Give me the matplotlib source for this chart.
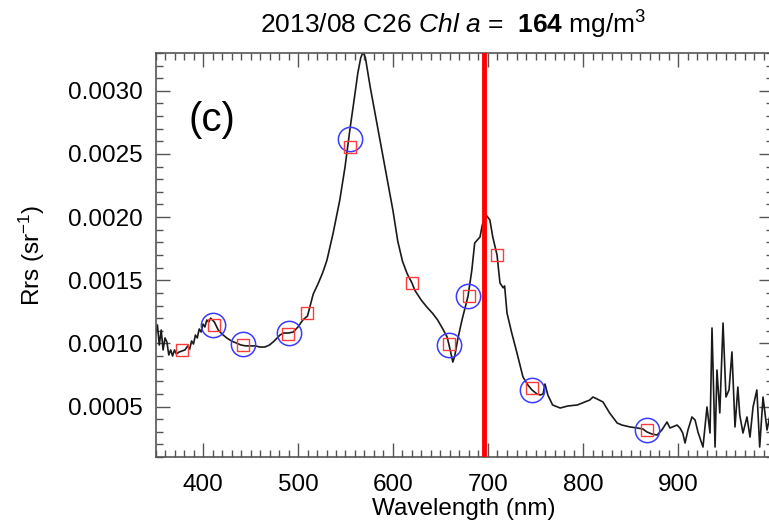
import matplotlib
matplotlib.use('Agg')
import matplotlib.pyplot as plt
from matplotlib.ticker import MultipleLocator, FormatStrFormatter

plt.rcParams['font.family'] = ['Liberation Sans', 'DejaVu Sans']
plt.rcParams['mathtext.fontset'] = 'custom'
plt.rcParams['mathtext.rm'] = 'Liberation Sans'
plt.rcParams['mathtext.it'] = 'Liberation Sans:italic'
plt.rcParams['mathtext.bf'] = 'Liberation Sans:bold'

# measured spectrum (nm, sr^-1)
wavelength = [
    350, 352, 354, 356, 358, 360, 362, 364, 366, 368, 370, 372, 375, 378, 381,
    384, 386, 388, 390, 392, 394, 396, 398, 400, 402, 404, 406, 408, 410, 412,
    414, 416, 418, 420, 425, 430, 435, 440, 445, 450, 455, 460, 465, 470, 475,
    478, 481, 485, 490, 495, 500, 505, 510, 516, 521, 526, 530.5, 537, 544, 549.5,
    555, 558, 563, 566, 568.5, 571, 576, 583, 594, 600, 605, 610, 615, 620, 623,
    630, 636, 642, 647, 652, 657, 659, 661, 663, 665, 668, 672.6, 679, 683, 686,
    691.6, 694, 698, 702, 705, 709.5, 712.6, 716, 717.5, 720, 725, 730.5, 736.8, 742, 746.3,
    751.6, 755, 758, 760, 763, 768, 776, 784, 794, 802, 807, 810.5, 815, 821, 828,
    836, 841, 849.5, 857, 863, 867.4, 872.6, 878, 883, 888.4, 891.6, 899, 902, 905, 907.4,
    910.5, 914.7, 918, 921, 926.3, 930.5, 933.7, 935.8, 939, 941, 944, 947.4, 950.5, 953.7, 956.8,
    960, 963, 965, 968.4, 972.6, 975.8, 979, 983, 986, 989.5, 993.7, 998,
]
rrs = [
    0.001066, 0.001146, 0.000987, 0.001106, 0.000948, 0.001043, 0.001011, 0.000908, 0.000948, 0.000900,
    0.000948, 0.000916, 0.000932, 0.000940, 0.000948, 0.000980, 0.000955, 0.001019, 0.000995, 0.001066,
    0.001043, 0.001114, 0.001090, 0.001153, 0.001130, 0.001185, 0.001169, 0.001200, 0.001185, 0.001169,
    0.001138, 0.001106, 0.001090, 0.001074, 0.001043, 0.001019, 0.001003, 0.000987, 0.000980, 0.000980,
    0.000980, 0.000971, 0.000971, 0.000987, 0.001019, 0.001043, 0.001066, 0.001082, 0.001082, 0.001090,
    0.001130, 0.001185, 0.001217, 0.001390, 0.001470, 0.001560, 0.001660, 0.001874, 0.002136, 0.002397,
    0.002714, 0.002872, 0.003142, 0.003260, 0.003310, 0.003260, 0.003031, 0.002746, 0.002294, 0.002050,
    0.001810, 0.001650, 0.001550, 0.001478, 0.001420, 0.001340, 0.001285, 0.001235, 0.001185, 0.001120,
    0.001050, 0.000987, 0.000920, 0.000852, 0.000900, 0.001027, 0.001185, 0.001375, 0.001581, 0.001795,
    0.001843, 0.001938, 0.002017, 0.001977, 0.001843, 0.001700, 0.001478, 0.001440, 0.001455, 0.001240,
    0.001082, 0.000924, 0.000734, 0.000670, 0.000631, 0.000599, 0.000591, 0.000600, 0.000678, 0.000591,
    0.000512, 0.000488, 0.000504, 0.000512, 0.000536, 0.000551, 0.000575, 0.000559, 0.000536, 0.000449,
    0.000369, 0.000353, 0.000338, 0.000330, 0.000322, 0.000298, 0.000282, 0.000274, 0.000314, 0.000377,
    0.000330, 0.000353, 0.000330, 0.000290, 0.000211, 0.000314, 0.000417, 0.000393, 0.000298, 0.000179,
    0.000496, 0.000290, 0.001122, 0.000179, 0.000789, 0.000449, 0.001161, 0.000575, 0.000631, 0.000932,
    0.000338, 0.000654, 0.000433, 0.000290, 0.000417, 0.000258, 0.000496, 0.000631, 0.000179, 0.000575,
    0.000314, 0.000472,
]

# band values (circles) and sensor-convolved values (squares)
circle_wl = [411, 442, 490, 555, 659, 679, 746, 867]
circle_rrs = [0.001146, 0.000999, 0.001082, 0.002619, 0.000987, 0.001375, 0.000631, 0.000314]
square_wl = [378, 411.6, 442, 489.5, 509.5, 554.7, 620, 659, 680, 709.5, 746.3, 867.4]
square_rrs = [0.000948, 0.001146, 0.000987, 0.001074, 0.001240, 0.002555, 0.001478,
              0.000999, 0.001375, 0.001700, 0.000647, 0.000314]

red_edge = 696

fig = plt.figure(figsize=(7.69, 5.26), dpi=100)
ax = fig.add_axes([155.5 / 769, 1 - 457 / 526, (773 - 155.5) / 769, 404 / 526])

ax.plot(wavelength, rrs, color='#1a1a1a', linewidth=1.2, zorder=2)
ax.plot(circle_wl, circle_rrs, linestyle='none', marker='o', markersize=17.5,
        markerfacecolor='none', markeredgecolor='#3b3bff', markeredgewidth=1.1, zorder=3)
ax.plot(square_wl, square_rrs, linestyle='none', marker='s', markersize=9,
        markerfacecolor='none', markeredgecolor='#ff3a3a', markeredgewidth=1.0, zorder=4)
ax.axvline(red_edge, color='#ff0000', linewidth=3.5, zorder=5)

ax.set_xlim(350, 1000)
ax.set_ylim(0.0001, 0.0033)
ax.xaxis.set_major_locator(MultipleLocator(100))
ax.xaxis.set_minor_locator(MultipleLocator(10))
ax.yaxis.set_major_locator(MultipleLocator(0.0005))
ax.yaxis.set_minor_locator(MultipleLocator(0.0001))
ax.yaxis.set_major_formatter(FormatStrFormatter('%.4f'))
ax.set_xticks([400, 500, 600, 700, 800, 900])

for s in ax.spines.values():
    s.set_color('#555555')
    s.set_linewidth(1.2)
ax.tick_params(which='both', direction='in', top=True, right=True, color='#555555',
               labelsize=17.5)
ax.tick_params(which='major', length=10, width=1.0)
ax.tick_params(which='minor', length=5, width=1.0)
ax.tick_params(axis='y', pad=9)
ax.tick_params(axis='x', pad=12)

ax.set_xlabel('Wavelength (nm)', fontsize=17.5, labelpad=2)
ax.set_ylabel(r'Rrs (sr$^{-1}$)', fontsize=17.5, labelpad=15)

ax.text(0.054, 0.88, '(c)', transform=ax.transAxes, fontsize=29, va='top', ha='left')

fig.text(453 / 769, 1 - 25 / 526,
         r'2013/08 C26 $\it{Chl\ a}$ =  $\bf{164}$ mg/m$^3$',
         fontsize=19, ha='center', va='center')

fig.savefig('out.png', dpi=100)
